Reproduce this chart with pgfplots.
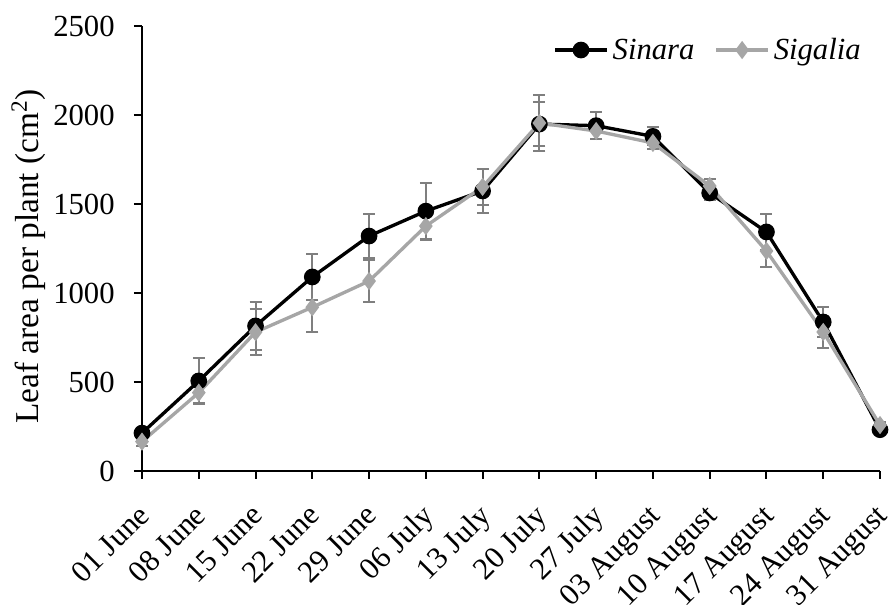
\documentclass[border=0pt]{standalone}
\usepackage{fontspec}
\setmainfont{Liberation Serif}
\usepackage{pgfplots}
\pgfplotsset{compat=1.18}
\definecolor{sig}{HTML}{A6A6A6}
\definecolor{errc}{HTML}{7F7F7F}
\newcommand{\bigf}{\fontsize{23}{27}\selectfont}
\pgfplotstableread{
x y e
0 213 30
1 506 130
2 815 134
3 1090 130
4 1320 125
5 1460 157
6 1573 125
7 1949 125
8 1940 75
9 1880 50
10 1562 40
11 1343 100
12 837 85
13 232 20
}\sinara
\pgfplotstableread{
x y e
0 165 25
1 440 60
2 780 130
3 920 140
4 1067 118
5 1376 80
6 1596 100
7 1955 157
8 1910 45
9 1843 35
10 1601 40
11 1236 90
12 781 90
13 258 20
}\sigalia
\begin{document}
\begin{tikzpicture}[font=\bigf]
\path[use as bounding box] (-106.5pt,-100.5pt) rectangle (561pt,353.25pt);
\begin{axis}[
  at={(0,0)}, anchor=south west,
  scale only axis, width=553.5pt, height=333.75pt,
  xmin=0, xmax=13, ymin=0, ymax=2500,
  axis x line*=bottom, axis y line*=left,
  axis line style={line width=1.5pt, -},
  xtick={0,...,13},
  xticklabels={01 June,08 June,15 June,22 June,29 June,06 July,13 July,20 July,27 July,03 August,10 August,17 August,24 August,31 August},
  every tick label/.append style={font=\bigf},
  xticklabel style={font=\bigf, rotate=45, anchor=north east, inner sep=1pt, xshift=-14.5pt, yshift=-8.5pt},
  yticklabel style={font=\bigf, /pgf/number format/1000 sep={}, xshift=-11pt},
  ytick={0,500,...,2500},
  tick align=outside, major tick length=6pt,
  tick style={line width=1.5pt, black},
  /pgf/number format/assume math mode=true,
  ylabel={Leaf area per plant (cm\textsuperscript{2})},
  every axis y label/.style={at={(rel axis cs:0,0.5)}, rotate=90, anchor=center, yshift=85pt, xshift=-6pt, font=\fontsize{25}{29}\selectfont},
  legend columns=2,
  legend style={draw=none, fill=none, at={(0.557,0.946)}, anchor=west, font=\bigf\itshape, column sep=1pt, inner sep=0pt,
    /tikz/every even column/.append style={column sep=13pt}},
  legend image code/.code={
    \draw[#1] (0pt,0pt) -- (39pt,0pt);
    \draw[#1, only marks] plot coordinates {(19.5pt,0pt)};
  },
  clip=false,
]
\addplot[black, line width=2.5pt, mark=*, mark size=5pt,
  error bars/.cd, y dir=both, y explicit,
  error bar style={errc, line width=1.5pt}, error mark options={errc, line width=1.5pt, rotate=90, mark size=4.5pt}]
  table[x=x, y=y, y error=e] {\sinara};
\addlegendentry{Sinara}
\addplot[sig, line width=2.5pt, mark=diamond*, mark size=4.8pt,
  error bars/.cd, y dir=both, y explicit,
  error bar style={errc, line width=1.5pt}, error mark options={errc, line width=1.5pt, rotate=90, mark size=4.5pt}]
  table[x=x, y=y, y error=e] {\sigalia};
\addlegendentry{Sigalia}
\end{axis}
\end{tikzpicture}
\end{document}
